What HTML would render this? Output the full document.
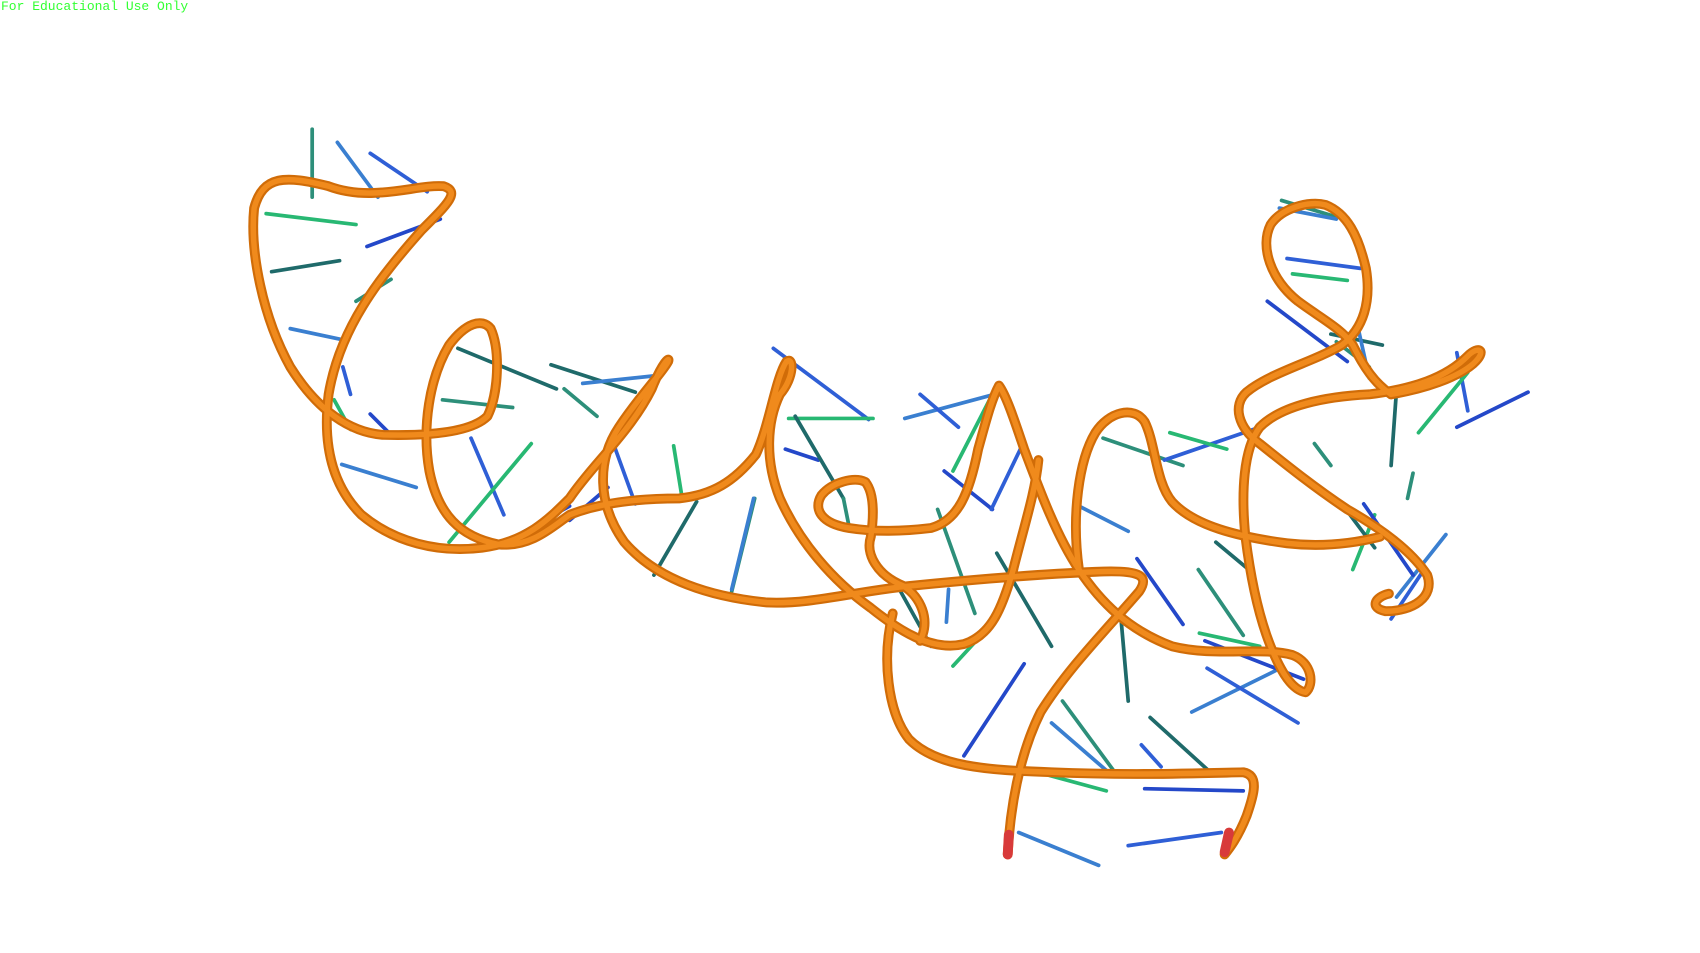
<!DOCTYPE html>
<html><head><meta charset="utf-8">
<style>
html,body{margin:0;padding:0;background:#fff;width:1700px;height:953px;overflow:hidden}
#wm{position:absolute;left:1px;top:0px;font-family:"Liberation Mono",monospace;font-size:13px;color:#33ff33;line-height:14px;z-index:2}
svg{position:absolute;left:0;top:0}
</style></head><body>
<div id="wm">For Educational Use Only</div>
<svg width="1700" height="953" viewBox="0 0 1552 870" preserveAspectRatio="none">
<g id="sticks" stroke-width="3.4" stroke-linecap="round"></g>
<g id="backbone" fill="none" stroke-linecap="round" stroke-linejoin="round">
<path d="M920,780 C922,740 930,690 950,650 C975,610 1010,575 1040,540 C1050,525 1040,520 1000,522 C950,524 880,530 830,535 C780,540 740,552 700,550 C650,545 600,530 570,495 C545,460 545,420 565,390 C585,360 605,340 610,330 C612,325 605,330 595,355 C575,395 540,425 520,455 C500,475 480,495 440,500 C400,505 360,495 330,470 C300,440 295,400 300,360 C310,300 345,255 385,210 C410,185 420,175 405,170 C380,168 340,185 300,170 C260,160 240,160 232,190 C228,230 240,290 265,335 C290,375 320,395 350,397 C390,398 430,395 445,380 C455,360 457,320 448,300 C440,290 425,295 410,315 C392,345 385,390 392,430 C400,470 420,490 455,497 C485,500 505,480 520,470 C545,460 580,455 620,455 C650,452 670,440 690,415 C702,390 708,345 718,330 C725,325 725,345 712,360 C700,385 698,420 712,455 C730,495 760,530 795,555 C820,575 850,595 880,588 C905,580 915,555 925,520"/>
<path d="M925,520 C935,480 945,450 948,420"/>
<path d="M790,440 C780,435 760,440 750,452 C742,465 750,478 775,482 C800,486 825,485 850,482 C875,475 885,450 893,410 C900,385 905,365 912,352 C918,360 925,380 935,410 C950,450 965,490 985,520 C1005,550 1030,575 1070,590 C1110,600 1150,590 1180,598 C1198,605 1200,625 1192,632 C1180,630 1170,615 1160,590 C1150,565 1142,530 1137,490 C1133,450 1135,410 1150,390 C1170,370 1210,362 1250,360 C1290,355 1320,345 1340,325 C1350,315 1358,320 1345,332 C1330,345 1300,355 1270,360"/>
<path d="M790,440 C798,450 798,470 795,490 C790,505 800,525 825,535 C840,545 850,565 840,585"/>
<path d="M1270,360 C1255,350 1245,335 1235,315 C1225,300 1205,290 1185,275 C1160,255 1150,225 1160,205 C1170,190 1195,183 1210,187 C1230,195 1240,215 1247,245 C1252,275 1245,300 1225,315 C1200,330 1160,340 1138,358 C1125,370 1130,390 1150,405 C1175,425 1200,445 1230,465 C1265,485 1290,505 1303,525 C1310,545 1290,558 1265,558 C1250,555 1255,545 1268,542"/>
<path d="M985,520 C978,470 985,420 1000,395 C1012,376 1035,370 1045,385 C1055,405 1055,440 1070,458 C1090,480 1130,490 1175,496 C1210,500 1240,495 1260,490"/>
<path d="M815,560 C805,600 810,650 830,675 C855,700 900,703 960,705 C1030,708 1090,706 1135,705 C1150,708 1145,725 1138,745 C1130,765 1122,775 1118,780"/>
</g>
</svg>
<script>
const sticksX1=[285,308,338,243,402,248,357,265,313,320,338,418,404,312,430,485,520,503,515,598,560,615,555,636,689,668,706,720,717,726,770,826,840,907,906,820,856,864,932,870,935,910,1007,985,1063,1068,1038,1023,1094,1088,1102,1095,1100,1110,1170,1168,1175,1180,1157,1215,1220,1240,1330,1340,1395,1275,1290,1320,1300,1255,1245,1225,1200,930,1030,940,1045,1050,970,960,1042];
const sticksY1=[118,130,140,195,200,248,255,300,335,392,378,318,365,424,400,405,462,333,355,343,405,407,445,458,455,538,318,382,410,380,455,382,360,358,465,536,465,568,409,608,606,505,400,462,420,395,510,560,520,650,610,578,585,495,183,190,236,250,275,305,312,300,322,340,358,355,432,488,520,470,460,460,405,760,772,703,720,655,640,660,680];
const sticksX2=[285,345,390,325,335,310,325,312,320,305,355,508,468,380,460,410,470,580,545,532,580,622,520,597,668,688,793,797,747,770,775,908,875,870,862,850,890,866,905,905,880,960,1080,1030,1150,1120,1080,1030,1135,1165,1185,1150,1190,1140,1220,1220,1242,1230,1230,1262,1250,1250,1340,1295,1330,1270,1285,1275,1270,1235,1290,1255,1215,1003,1115,1010,1135,1105,1020,1012,1060];
const sticksY2=[180,180,175,205,225,238,275,310,360,365,395,355,372,445,470,495,490,358,380,350,460,450,475,525,540,455,383,382,420,455,480,360,390,430,430,590,560,538,465,570,690,590,425,485,390,410,570,640,580,612,660,590,620,520,198,200,245,256,330,315,335,345,375,395,390,425,455,545,565,520,525,500,425,790,760,722,722,705,708,705,700];
(function(){
  var NS='http://www.w3.org/2000/svg';
  var g=document.getElementById('sticks');
  var cols=['#2d8f7a','#3a7fd0','#2f5fd6','#28b873','#2448c9','#1f6a6a'];
  for(var i=0;i<sticksX1.length;i++){
    var l=document.createElementNS(NS,'line');
    l.setAttribute('x1',sticksX1[i]);l.setAttribute('y1',sticksY1[i]);
    l.setAttribute('x2',sticksX2[i]);l.setAttribute('y2',sticksY2[i]);
    l.setAttribute('stroke',cols[i%cols.length]);
    
    
    g.appendChild(l);
  }
  var bb=document.getElementById('backbone');
  var paths=[].slice.call(bb.querySelectorAll('path'));
  paths.forEach(function(p){
    p.setAttribute('stroke','#d06c08');p.setAttribute('stroke-width','9');
    var hl=document.createElementNS(NS,'path');
    hl.setAttribute('d',p.getAttribute('d'));hl.setAttribute('stroke','#f08a1c');hl.setAttribute('stroke-width','5');hl.setAttribute('fill','none');
    
    
    bb.appendChild(hl);
  });
  var ends=[[920,780],[1118,778]];
  ends.forEach(function(e){
    var c=document.createElementNS(NS,'line');
    c.setAttribute('x1',e[0]);c.setAttribute('y1',e[1]);c.setAttribute('x2',e[0]+(e[0]<1000?1:4));c.setAttribute('y2',e[1]-18);
    c.setAttribute('stroke','#d83a3a');c.setAttribute('stroke-width','9');c.setAttribute('stroke-linecap','round');
    
    
    bb.appendChild(c);
  });
})();
</script>
</body></html>
